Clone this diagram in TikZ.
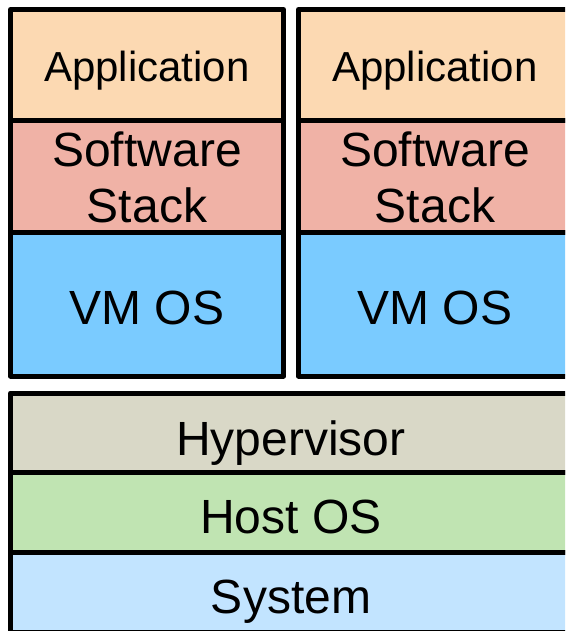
\documentclass[tikz,border=0pt]{standalone}
\usepackage{fontspec}
\setmainfont{Liberation Sans}
\definecolor{appc}{HTML}{FCD9B2}
\definecolor{swc}{HTML}{F0B2A6}
\definecolor{vmc}{HTML}{7ACBFF}
\definecolor{hypc}{HTML}{D9D8C7}
\definecolor{hostc}{HTML}{C0E4B2}
\definecolor{sysc}{HTML}{C2E4FF}
\tikzset{
  layer/.style={draw=black, line width=5pt, line join=round, rectangle,
    inner sep=0pt, outer sep=0pt},
  lbl/.style={inner sep=0pt, outer sep=0pt, align=center, anchor=base,
    font=\fontsize{48}{55}\selectfont},
  applbl/.style={lbl, font=\fontsize{42}{48}\selectfont},
}
\begin{document}
\begin{tikzpicture}[x=1pt, y=-1pt]
  \useasboundingbox (0,0) rectangle (565,631);
  \clip (0,0) rectangle (565,631);
  % left virtual machine stack
  \node[layer, fill=appc, minimum width=273pt, minimum height=111pt] (appL) at (147,65) {};
  \node[layer, fill=swc, minimum width=273pt, minimum height=112pt] (swL) at (147,176.5) {};
  \node[layer, fill=vmc, minimum width=273pt, minimum height=143.5pt] (vmL) at (147,304.25) {};
  % right virtual machine stack
  \node[layer, fill=appc, minimum width=273pt, minimum height=111pt] (appR) at (435,65) {};
  \node[layer, fill=swc, minimum width=273pt, minimum height=112pt] (swR) at (435,176.5) {};
  \node[layer, fill=vmc, minimum width=273pt, minimum height=143.5pt] (vmR) at (435,304.25) {};
  % shared host layers
  \node[layer, fill=hypc, minimum width=561pt, minimum height=79.5pt] (hyp) at (291,432.75) {};
  \node[layer, fill=hostc, minimum width=561pt, minimum height=80pt] (host) at (291,512.5) {};
  \node[layer, fill=sysc, minimum width=561pt, minimum height=80pt] (sys) at (291,592.5) {};
  % layer names, placed on their (last line's) baselines
  \node[applbl] (appLt) at (147,82) {Application};
  \node[applbl] (appRt) at (435,82) {Application};
  \node[lbl] (swLt) at (147,222) {Software\\Stack};
  \node[lbl] (swRt) at (435,222) {Software\\Stack};
  \node[lbl] (vmLt) at (147,324) {VM OS};
  \node[lbl] (vmRt) at (435,324) {VM OS};
  \node[lbl] (hypt) at (291,455) {Hypervisor};
  \node[lbl] (hostt) at (291,533) {Host OS};
  \node[lbl] (syst) at (291,613) {System};
\end{tikzpicture}
\end{document}
